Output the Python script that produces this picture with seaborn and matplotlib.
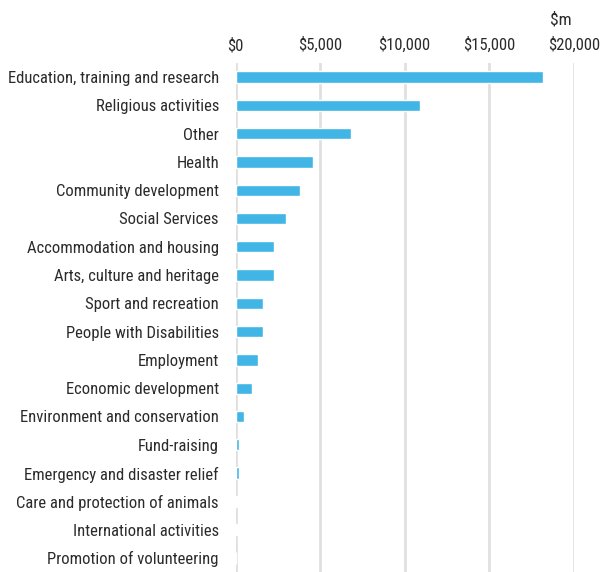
import matplotlib
matplotlib.use("Agg")
import matplotlib.pyplot as plt
from matplotlib.ticker import FuncFormatter
import pandas as pd
import seaborn as sns

categories = [
    "Education, training and research",
    "Religious activities",
    "Other",
    "Health",
    "Community development",
    "Social Services",
    "Accommodation and housing",
    "Arts, culture and heritage",
    "Sport and recreation",
    "People with Disabilities",
    "Employment",
    "Economic development",
    "Environment and conservation",
    "Fund-raising",
    "Emergency and disaster relief",
    "Care and protection of animals",
    "International activities",
    "Promotion of volunteering",
]
values_m = [18150, 10900, 6850, 4550, 3800, 3000, 2250, 2250, 1600, 1600,
            1300, 1000, 520, 220, 220, 60, 60, 50]
x_ticks = [0, 5000, 10000, 15000, 20000]

df = pd.DataFrame({"category": categories, "value": values_m})

sns.set_theme(style="white")
plt.rcParams["font.family"] = ["Roboto Condensed", "DejaVu Sans"]

text_color = "#2b2b2b"
bar_color = "#41b6e6"
grid_color = "#e0e0e0"

fig = plt.figure(figsize=(6.04, 5.72), dpi=100)
ax = fig.add_axes([0.39, 0.0, 0.56, 0.89])

sns.barplot(data=df, y="category", x="value", orient="h", color=bar_color,
            width=0.4, saturation=1, ax=ax, zorder=3)

ax.set_xlim(0, 20000)
ax.set_ylim(len(categories) - 0.5, -0.5)
ax.set_xticks(x_ticks)
ax.xaxis.set_major_formatter(FuncFormatter(lambda v, _: f"${v:,.0f}"))
ax.xaxis.tick_top()
ax.xaxis.set_label_position("top")
ax.set_xlabel("")
ax.set_ylabel("")

ax.grid(axis="x", color=grid_color, linewidth=2, zorder=0)
ax.grid(axis="y", visible=False)
ax.set_axisbelow(True)
for spine in ax.spines.values():
    spine.set_visible(False)

ax.tick_params(axis="x", length=0, pad=7, labelsize=12, labelcolor=text_color)
ax.tick_params(axis="y", length=0, pad=12, labelsize=12, labelcolor=text_color)

fig.text(0.928, 0.965, "$m", ha="center", va="center", fontsize=12.5,
         color=text_color)

fig.savefig("out.png", dpi=100, facecolor="white")
